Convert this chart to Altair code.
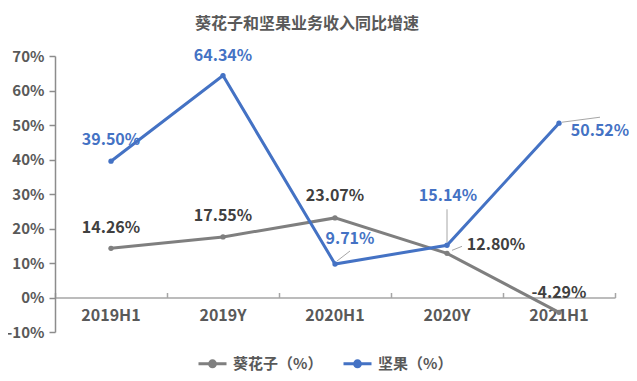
import altair as alt
import pandas as pd

# ---------------- data ----------------
categories = ["2019H1", "2019Y", "2020H1", "2020Y", "2021H1"]
sunflower = [14.26, 17.55, 23.07, 12.80, -4.29]
nuts = [39.50, 64.34, 9.71, 15.14, 50.52]
series_names = ["葵花子（%）", "坚果（%）"]
y_ticks = [-10, 0, 10, 20, 30, 40, 50, 60, 70]
title_text = "葵花子和坚果业务收入同比增速"

rows = []
for name, vals in zip(series_names, [sunflower, nuts]):
    for c, v in zip(categories, vals):
        rows.append({"cat": c, "series": name, "value": v, "label": f"{v:.2f}%"})
df = pd.DataFrame(rows)

# ---------------- style ----------------
FONT = "Noto Sans CJK SC"
GRAY = "#7f7f7f"
BLUE = "#4472c4"
TEXT = "#595959"
LABEL_COLORS = ["#404040", BLUE]
# label offsets (dx, dy) in pixels, by (series index, category index)
label_offsets = {
    (0, 0): (0, -20), (0, 1): (0, -21), (0, 2): (0, -22), (0, 3): (49, -8), (0, 4): (0, -19),
    (1, 0): (0, -21), (1, 1): (0, -20), (1, 2): (15, -25), (1, 3): (1, -49), (1, 4): (41, 8),
}
# leader lines: (series, category, xOffset, yOffset, x2Offset, y2Offset)
leaders = [
    (1, 2, 2, -3, 15, -13),
    (1, 3, 0, -3, 0, -36),
    (0, 3, 5, -3, 15, -7),
    (1, 4, 3, -1, 41, -6),
]

x_scale = alt.Scale(type="band", domain=categories, paddingInner=0, paddingOuter=0)
y_scale = alt.Scale(domain=[-10, 70], nice=False, zero=False)
color_scale = alt.Scale(domain=series_names, range=[GRAY, BLUE])

legend_path = "M-1,0L1,0M-0.21,0A0.21,0.21,0,1,1,0.21,0A0.21,0.21,0,1,1,-0.21,0Z"
legend = alt.Legend(
    title=None, orient="none", direction="horizontal", legendX=142, legendY=292,
    symbolType=legend_path, symbolSize=784, symbolStrokeWidth=3,
    labelFont=FONT, labelFontSize=15, labelColor=TEXT, labelFontWeight="bold",
    labelOffset=5, columnPadding=14, symbolOpacity=1,
)

y_axis = alt.Axis(
    values=y_ticks, labelExpr="datum.value + '%'", grid=False, title=None,
    domainColor="#8c8c8c", domainWidth=1.5, tickColor="#8c8c8c", tickWidth=1.5,
    tickSize=6, labelPadding=5, labelFont=FONT, labelFontSize=15,
    labelFontWeight="bold", labelColor=TEXT,
)
x_axis_bottom = alt.Axis(
    orient="bottom", offset=-34.5, title=None, ticks=False, labelAngle=0,
    domainColor="#a6a6a6", domainWidth=1.5, labelPadding=10, labelFont=FONT,
    labelFontSize=16, labelFontWeight="bold", labelColor=TEXT,
)
x_axis_top = alt.Axis(
    orient="top", offset=-241.5, title=None, labels=False, domain=False,
    ticks=True, tickBand="extent", tickSize=5, tickColor="#a6a6a6", tickWidth=1.5,
)

base = alt.Chart(df)

lines = base.mark_line(strokeWidth=3).encode(
    x=alt.X("cat:N", scale=x_scale, axis=x_axis_bottom, sort=categories),
    y=alt.Y("value:Q", scale=y_scale, axis=y_axis),
    color=alt.Color("series:N", scale=color_scale, legend=legend, sort=series_names),
)
points = base.mark_point(filled=True, size=28, opacity=1).encode(
    x=alt.X("cat:N", scale=x_scale, axis=x_axis_top, sort=categories),
    y=alt.Y("value:Q", scale=y_scale, axis=y_axis),
    color=alt.Color("series:N", scale=color_scale, legend=legend, sort=series_names),
)

layers = [lines, points]

for (si, ci, xo, yo, x2o, y2o) in leaders:
    rule = base.transform_filter(
        (alt.datum.series == series_names[si]) & (alt.datum.cat == categories[ci])
    ).mark_rule(color="#a6a6a6", strokeWidth=1, xOffset=xo, yOffset=yo,
                x2Offset=x2o, y2Offset=y2o).encode(
        x=alt.X("cat:N", scale=x_scale, axis=None, bandPosition=0.5),
        x2=alt.X2("cat", bandPosition=0.5),
        y=alt.Y("value:Q", scale=y_scale, axis=y_axis),
        y2=alt.Y2("value"),
    )
    layers.append(rule)

for (si, ci), (dx, dy) in label_offsets.items():
    txt = base.transform_filter(
        (alt.datum.series == series_names[si]) & (alt.datum.cat == categories[ci])
    ).mark_text(font=FONT, fontSize=16, fontWeight="bold", color=LABEL_COLORS[si],
                dx=dx, dy=dy, align="center", baseline="middle").encode(
        x=alt.X("cat:N", scale=x_scale, axis=None),
        y=alt.Y("value:Q", scale=y_scale, axis=y_axis),
        text="label:N",
    )
    layers.append(txt)

chart = alt.layer(*layers).resolve_axis(x="independent").properties(
    width=560, height=276,
    padding={"left": 47, "top": 48, "right": 14, "bottom": 41},
    autosize=alt.AutoSizeParams(type="none"),
    title=alt.Title(title_text, fontSize=16, fontWeight="bold", color=TEXT,
                    font=FONT, anchor="middle", dx=-28, offset=16),
).configure(background="white", view=alt.ViewConfig(strokeWidth=0))

chart.save("out.html", embed_options={"renderer": "svg", "actions": False})
